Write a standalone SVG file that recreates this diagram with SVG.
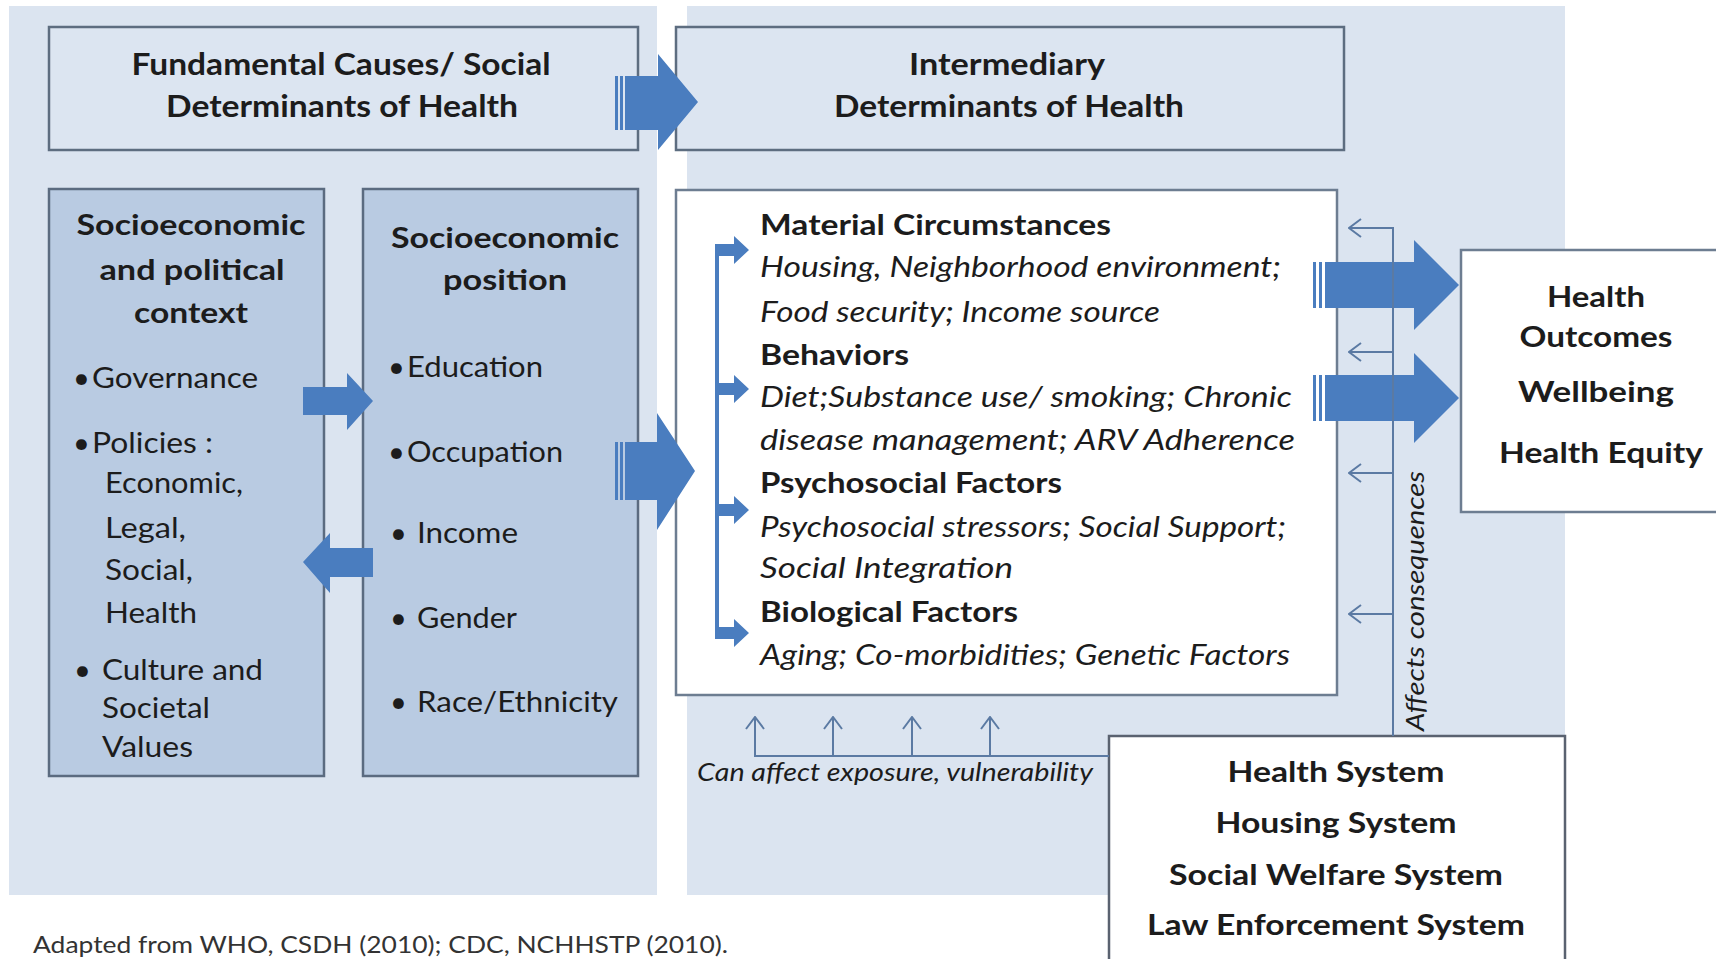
<svg xmlns="http://www.w3.org/2000/svg" width="1716" height="959" viewBox="0 0 1716 959">
  <defs>
    <style>
      .panel { fill: #dbe4f0; }
      .hdr { fill: #dce5f1; stroke: #5d6d80; stroke-width: 2.5; }
      .dark { fill: #b9cbe2; stroke: #5b6b80; stroke-width: 2.5; }
      .white { fill: #ffffff; stroke: #6d7d91; stroke-width: 2.5; }
      .blk { fill: #4a7dbf; }
      .thin { fill: none; stroke: #5b7aa3; stroke-width: 2; }
      text { font-family: Lato, "Liberation Sans", sans-serif; fill: #1c1c1c; }
      .b { font-weight: bold; }
      .i { font-style: italic; }
      .t31 { font-size: 31px; }
      .t29 { font-size: 29px; }
      .t25 { font-size: 25px; }
      .mid { text-anchor: middle; }
      .note { font-size: 24px; fill: #333333; }
    </style>
    <marker id="open" viewBox="0 0 14 20" refX="13" refY="10" markerWidth="14" markerHeight="20" orient="auto" markerUnits="userSpaceOnUse">
      <path d="M1,1 L13,10 L1,19" fill="none" stroke="#5b7aa3" stroke-width="2"/>
    </marker>
  </defs>

  <rect width="1716" height="959" fill="#ffffff"/>

  <!-- background panels -->
  <rect class="panel" x="9" y="6" width="648" height="889"/>
  <rect class="panel" x="687" y="6" width="878" height="889"/>

  <g id="fundamental">
    <rect class="hdr" x="49" y="27" width="589" height="123"/>
    <text class="t31 b mid" x="341" y="75" textLength="419" lengthAdjust="spacingAndGlyphs">Fundamental Causes/ Social</text>
    <text class="t31 b mid" x="342" y="117" textLength="352" lengthAdjust="spacingAndGlyphs">Determinants of Health</text>
  </g>

  <g id="intermediary">
    <rect class="hdr" x="676" y="27" width="668" height="123"/>
    <text class="t31 b mid" x="1007" y="75" textLength="196" lengthAdjust="spacingAndGlyphs">Intermediary</text>
    <text class="t31 b mid" x="1009" y="117" textLength="350" lengthAdjust="spacingAndGlyphs">Determinants of Health</text>
  </g>

  <g id="context">
    <rect class="dark" x="49" y="189" width="275" height="587"/>
    <text class="t29 b mid" x="191" y="235" textLength="229" lengthAdjust="spacingAndGlyphs">Socioeconomic</text>
    <text class="t29 b mid" x="192" y="280" textLength="185" lengthAdjust="spacingAndGlyphs">and political</text>
    <text class="t29 b mid" x="191" y="323" textLength="114" lengthAdjust="spacingAndGlyphs">context</text>
    <text class="t29" x="73" y="388">•</text>
    <text class="t29" x="92" y="388" textLength="166" lengthAdjust="spacingAndGlyphs">Governance</text>
    <text class="t29" x="73" y="453">•</text>
    <text class="t29" x="92" y="453" textLength="121" lengthAdjust="spacingAndGlyphs">Policies :</text>
    <text class="t29" x="105" y="493" textLength="138" lengthAdjust="spacingAndGlyphs">Economic,</text>
    <text class="t29" x="105" y="538" textLength="81" lengthAdjust="spacingAndGlyphs">Legal,</text>
    <text class="t29" x="105" y="580" textLength="88" lengthAdjust="spacingAndGlyphs">Social,</text>
    <text class="t29" x="105" y="623" textLength="92" lengthAdjust="spacingAndGlyphs">Health</text>
    <text class="t29" x="74" y="680">•</text>
    <text class="t29" x="102" y="680" textLength="161" lengthAdjust="spacingAndGlyphs">Culture and</text>
    <text class="t29" x="102" y="718" textLength="108" lengthAdjust="spacingAndGlyphs">Societal</text>
    <text class="t29" x="102" y="757" textLength="91" lengthAdjust="spacingAndGlyphs">Values</text>
  </g>

  <g id="position">
    <rect class="dark" x="363" y="189" width="275" height="587"/>
    <text class="t29 b mid" x="505" y="248" textLength="228" lengthAdjust="spacingAndGlyphs">Socioeconomic</text>
    <text class="t29 b mid" x="505" y="290" textLength="124" lengthAdjust="spacingAndGlyphs">position</text>
    <text class="t29" x="388" y="377">•</text>
    <text class="t29" x="407" y="377" textLength="136" lengthAdjust="spacingAndGlyphs">Education</text>
    <text class="t29" x="388" y="462">•</text>
    <text class="t29" x="407" y="462" textLength="156" lengthAdjust="spacingAndGlyphs">Occupation</text>
    <text class="t29" x="390" y="543">•</text>
    <text class="t29" x="417" y="543" textLength="101" lengthAdjust="spacingAndGlyphs">Income</text>
    <text class="t29" x="390" y="628">•</text>
    <text class="t29" x="417" y="628" textLength="100" lengthAdjust="spacingAndGlyphs">Gender</text>
    <text class="t29" x="390" y="712">•</text>
    <text class="t29" x="417" y="712" textLength="201" lengthAdjust="spacingAndGlyphs">Race/Ethnicity</text>
  </g>

  <g id="factors">
    <rect class="white" x="676" y="190" width="661" height="505"/>
    <text class="t29 b" x="760" y="235" textLength="351" lengthAdjust="spacingAndGlyphs">Material Circumstances</text>
    <text class="t29 i" x="760" y="277" textLength="521" lengthAdjust="spacingAndGlyphs">Housing, Neighborhood environment;</text>
    <text class="t29 i" x="760" y="322" textLength="400" lengthAdjust="spacingAndGlyphs">Food security; Income source</text>
    <text class="t29 b" x="760" y="365" textLength="149" lengthAdjust="spacingAndGlyphs">Behaviors</text>
    <text class="t29 i" x="760" y="407" textLength="532" lengthAdjust="spacingAndGlyphs">Diet;Substance use/ smoking;  Chronic</text>
    <text class="t29 i" x="760" y="450" textLength="535" lengthAdjust="spacingAndGlyphs">disease management;  ARV Adherence</text>
    <text class="t29 b" x="760" y="493" textLength="302" lengthAdjust="spacingAndGlyphs">Psychosocial Factors</text>
    <text class="t29 i" x="760" y="537" textLength="526" lengthAdjust="spacingAndGlyphs">Psychosocial  stressors; Social Support;</text>
    <text class="t29 i" x="760" y="578" textLength="253" lengthAdjust="spacingAndGlyphs">Social Integration</text>
    <text class="t29 b" x="760" y="622" textLength="258" lengthAdjust="spacingAndGlyphs">Biological Factors</text>
    <text class="t29 i" x="760" y="665" textLength="530" lengthAdjust="spacingAndGlyphs">Aging; Co-morbidities; Genetic Factors</text>
  </g>

  <g id="outcomes">
    <rect class="white" x="1461" y="250" width="270" height="262"/>
    <text class="t29 b mid" x="1596" y="307" textLength="98" lengthAdjust="spacingAndGlyphs">Health</text>
    <text class="t29 b mid" x="1596" y="347" textLength="153" lengthAdjust="spacingAndGlyphs">Outcomes</text>
    <text class="t29 b mid" x="1596" y="402" textLength="156" lengthAdjust="spacingAndGlyphs">Wellbeing</text>
    <text class="t29 b mid" x="1601" y="463" textLength="204" lengthAdjust="spacingAndGlyphs">Health Equity</text>
  </g>

  <g id="systems">
    <rect class="white" x="1109" y="736" width="456" height="235" style="stroke:#5a6270"/>
    <text class="t29 b mid" x="1336" y="782" textLength="217" lengthAdjust="spacingAndGlyphs">Health System</text>
    <text class="t29 b mid" x="1336" y="833" textLength="241" lengthAdjust="spacingAndGlyphs">Housing System</text>
    <text class="t29 b mid" x="1336" y="885" textLength="334" lengthAdjust="spacingAndGlyphs">Social Welfare System</text>
    <text class="t29 b mid" x="1336" y="935" textLength="378" lengthAdjust="spacingAndGlyphs">Law Enforcement System</text>
  </g>

  <!-- connectors, drawn over the boxes -->
  <g id="connectors">
    <!-- fundamental -> intermediary -->
    <rect class="blk" x="615" y="76" width="3" height="54"/>
    <rect class="blk" x="620" y="76" width="3" height="54"/>
    <polygon class="blk" points="625,76 658,76 658,54 698,102 658,150 658,130 625,130"/>
    <!-- socioeconomic position -> intermediary -->
    <rect class="blk" x="615" y="442" width="3" height="58"/>
    <rect class="blk" x="620" y="442" width="3" height="58"/>
    <polygon class="blk" points="625,442 657,442 657,413 695,471 657,530 657,500 625,500"/>
    <!-- context <-> position -->
    <polygon class="blk" points="303,387 347,387 347,373 373,401 347,430 347,415 303,415"/>
    <polygon class="blk" points="373,548 330,548 330,533 303,562 330,593 330,577 373,577"/>
    <!-- to health outcomes -->
    <rect class="blk" x="1313" y="262" width="3" height="46"/>
    <rect class="blk" x="1319" y="262" width="3" height="46"/>
    <polygon class="blk" points="1325,262 1414,262 1414,240 1459,285 1414,330 1414,308 1325,308"/>
    <rect class="blk" x="1313" y="375" width="3" height="46"/>
    <rect class="blk" x="1319" y="375" width="3" height="46"/>
    <polygon class="blk" points="1325,375 1414,375 1414,353 1459,398 1414,443 1414,421 1325,421"/>
    <!-- bracket into the four intermediary factors -->
    <rect class="blk" x="715" y="250" width="4" height="383"/>
    <polygon class="blk" points="715,244 734,244 734,236 749,250 734,264 734,256 715,256"/>
    <polygon class="blk" points="715,383 734,383 734,375 749,389 734,403 734,395 715,395"/>
    <polygon class="blk" points="715,504 734,504 734,496 749,510 734,524 734,516 715,516"/>
    <polygon class="blk" points="715,627 734,627 734,619 749,633 734,647 734,639 715,639"/>
    <!-- systems: affects consequences -->
    <polyline class="thin" points="1393,736 1393,228 1349,228" marker-end="url(#open)"/>
    <line class="thin" x1="1393" y1="352" x2="1349" y2="352" marker-end="url(#open)"/>
    <line class="thin" x1="1393" y1="473" x2="1349" y2="473" marker-end="url(#open)"/>
    <line class="thin" x1="1393" y1="614" x2="1349" y2="614" marker-end="url(#open)"/>
    <!-- systems: can affect exposure -->
    <polyline class="thin" points="1109,756 755,756 755,717" marker-end="url(#open)"/>
    <line class="thin" x1="833" y1="756" x2="833" y2="717" marker-end="url(#open)"/>
    <line class="thin" x1="912" y1="756" x2="912" y2="717" marker-end="url(#open)"/>
    <line class="thin" x1="990" y1="756" x2="990" y2="717" marker-end="url(#open)"/>
    <text class="t25 i" x="697" y="781" textLength="396" lengthAdjust="spacingAndGlyphs">Can affect exposure, vulnerability</text>
    <text class="t25 i" transform="translate(1424,731) rotate(-90)" x="0" y="0" textLength="260" lengthAdjust="spacingAndGlyphs">Affects consequences</text>
  </g>

  <text class="note" x="33" y="953" textLength="695" lengthAdjust="spacingAndGlyphs">Adapted from WHO, CSDH (2010);  CDC, NCHHSTP (2010).</text>
</svg>
